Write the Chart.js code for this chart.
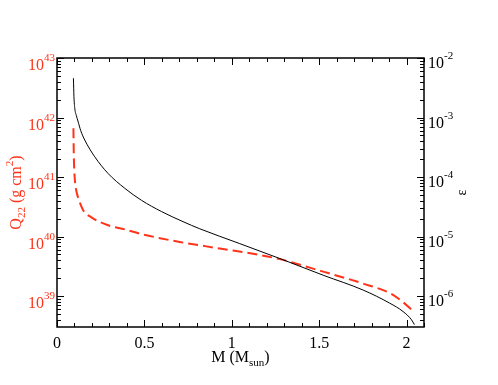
<!DOCTYPE html>
<html>
<head>
<meta charset="utf-8">
<script src="https://cdn.jsdelivr.net/npm/chart.js@4"></script>
<style>
  body { margin: 0; background: #fff; }
  #wrap { width: 498px; height: 385px; }
</style>
</head>
<body>
<div id="wrap"><canvas id="qChart" width="498" height="385"></canvas></div>
<script>
// Values
const massEps = [0.094, 0.097, 0.102, 0.111, 0.120, 0.136, 0.159, 0.216, 0.292, 0.388, 0.483, 0.598, 0.721, 0.817, 1.046, 1.275, 1.523, 1.752, 1.904, 1.98, 2.029, 2.045];
const epsValues = [4.57e-3, 2.24e-3, 1.41e-3, 1.07e-3, 8.7e-4, 6.0e-4, 4.17e-4, 2.19e-4, 1.15e-4, 6.46e-5, 4.07e-5, 2.63e-5, 1.78e-5, 1.35e-5, 7.6e-6, 4.27e-6, 2.24e-6, 1.26e-6, 7.59e-7, 5.50e-7, 3.98e-7, 3.31e-7];

const massQ = [0.094, 0.096, 0.099, 0.104, 0.112, 0.120, 0.149, 0.197, 0.292, 0.388, 0.473, 0.702, 0.931, 1.16, 1.275, 1.523, 1.752, 1.904, 1.98, 2.04];
const qValues = [6.6e41, 2.5e41, 1.26e41, 7.9e40, 5.6e40, 4.6e40, 2.8e40, 2.1e40, 1.55e40, 1.32e40, 1.12e40, 8.1e39, 6.3e39, 4.9e39, 4.17e39, 2.57e39, 1.62e39, 1.12e39, 7.9e38, 5.5e38];

const xMajorTicks = [0, 0.5, 1, 1.5, 2];
const xTickLabels = ['0', '0.5', '1', '1.5', '2'];
const leftExponents = [39, 40, 41, 42, 43];
const rightExponents = [-6, -5, -4, -3, -2];

const RED = '#ff3319';
const FONT = '"Liberation Serif", "DejaVu Serif", serif';

function toPoints(xs, ys) {
  return xs.map((x, i) => ({ x: x, y: ys[i] }));
}

// draws base text followed by a raised or lowered small part
function drawPair(ctx, x, y, base, small, size, smallSize, shift) {
  ctx.font = size + 'px ' + FONT;
  ctx.fillText(base, x, y);
  const w = ctx.measureText(base).width;
  ctx.font = smallSize + 'px ' + FONT;
  ctx.fillText(small, x + w, y + shift);
  return x + w + ctx.measureText(small).width;
}

function pairWidth(ctx, base, small, size, smallSize) {
  ctx.font = size + 'px ' + FONT;
  const w = ctx.measureText(base).width;
  ctx.font = smallSize + 'px ' + FONT;
  return w + ctx.measureText(small).width;
}

const axesPlugin = {
  id: 'graceAxes',
  afterDraw(chart) {
    const ctx = chart.ctx;
    const area = chart.chartArea;
    const xs = chart.scales.x;
    const yl = chart.scales.yQ;
    const yr = chart.scales.yEps;
    ctx.save();
    ctx.textBaseline = 'alphabetic';

    // frame
    ctx.strokeStyle = '#000';
    ctx.lineWidth = 1.5;
    ctx.strokeRect(area.left, area.top, area.right - area.left, area.bottom - area.top);

    // x ticks, bottom and top, pointing inward
    ctx.lineWidth = 1;
    ctx.beginPath();
    for (let i = 0; i <= 21; i++) {
      const v = i / 10;
      const px = Math.round(xs.getPixelForValue(v)) + 0.5;
      const len = (i % 5 === 0) ? 7 : 4;
      ctx.moveTo(px, area.bottom);
      ctx.lineTo(px, area.bottom - len);
      ctx.moveTo(px, area.top);
      ctx.lineTo(px, area.top + len);
    }
    ctx.stroke();

    // log ticks on both y axes
    ctx.beginPath();
    leftExponents.forEach((e, k) => {
      for (let m = 1; m <= 9; m++) {
        const len = m === 1 ? 7 : 4;
        const vl = m * Math.pow(10, e);
        if (vl >= yl.min && vl <= yl.max) {
          const py = Math.round(yl.getPixelForValue(vl)) + 0.5;
          ctx.moveTo(area.left, py);
          ctx.lineTo(area.left + len, py);
        }
        const vr = m * Math.pow(10, rightExponents[k]);
        if (vr >= yr.min && vr <= yr.max) {
          const py = Math.round(yr.getPixelForValue(vr)) + 0.5;
          ctx.moveTo(area.right, py);
          ctx.lineTo(area.right - len, py);
        }
      }
      // lower partial decade
      for (let m = 2; m <= 9; m++) {
        const vl = m * Math.pow(10, e - 1);
        if (k === 0 && vl >= yl.min) {
          const py = Math.round(yl.getPixelForValue(vl)) + 0.5;
          ctx.moveTo(area.left, py);
          ctx.lineTo(area.left + 4, py);
        }
        const vr = m * Math.pow(10, rightExponents[k] - 1);
        if (k === 0 && vr >= yr.min) {
          const py = Math.round(yr.getPixelForValue(vr)) + 0.5;
          ctx.moveTo(area.right, py);
          ctx.lineTo(area.right - 4, py);
        }
      }
    });
    ctx.stroke();

    // x tick labels
    ctx.fillStyle = '#000';
    ctx.font = '16px ' + FONT;
    ctx.textAlign = 'center';
    xMajorTicks.forEach((v, i) => {
      ctx.fillText(xTickLabels[i], xs.getPixelForValue(v), area.bottom + 21);
    });

    // left tick labels (red)
    ctx.textAlign = 'left';
    ctx.fillStyle = RED;
    leftExponents.forEach(e => {
      const py = yl.getPixelForValue(Math.pow(10, e));
      const w = pairWidth(ctx, '10', String(e), 16, 11);
      drawPair(ctx, area.left - 2 - w, py + 12, '10', String(e), 16, 11, -9);
    });

    // right tick labels
    ctx.fillStyle = '#000';
    rightExponents.forEach(e => {
      const py = yr.getPixelForValue(Math.pow(10, e));
      drawPair(ctx, area.right + 4, py + 10, '10', String(e), 16, 11, -9);
    });

    // x axis title with subscript
    {
      const cx = (area.left + area.right) / 2;
      const y = area.bottom + 35;
      ctx.font = '16px ' + FONT;
      const w1 = ctx.measureText('M (M').width;
      ctx.font = '11px ' + FONT;
      const w2 = ctx.measureText('sun').width;
      ctx.font = '16px ' + FONT;
      const w3 = ctx.measureText(')').width;
      let x = cx - (w1 + w2 + w3) / 2;
      ctx.fillText('M (M', x, y);
      ctx.font = '11px ' + FONT;
      ctx.fillText('sun', x + w1, y + 4);
      ctx.font = '16px ' + FONT;
      ctx.fillText(')', x + w1 + w2, y);
    }

    // left axis title, rotated
    {
      const cy = (area.top + area.bottom) / 2;
      ctx.save();
      ctx.translate(21, cy);
      ctx.rotate(-Math.PI / 2);
      ctx.fillStyle = RED;
      const parts = [['Q', 16, 0], ['22', 11, 4], [' (g cm', 16, 0], ['2', 11, -8], [')', 16, 0]];
      let total = 0;
      parts.forEach(p => { ctx.font = p[1] + 'px ' + FONT; total += ctx.measureText(p[0]).width; });
      let x = -total / 2;
      parts.forEach(p => {
        ctx.font = p[1] + 'px ' + FONT;
        ctx.fillText(p[0], x, p[2]);
        x += ctx.measureText(p[0]).width;
      });
      ctx.restore();
    }

    // right axis title
    {
      const cy = (area.top + area.bottom) / 2;
      ctx.save();
      ctx.translate(466, cy);
      ctx.rotate(-Math.PI / 2);
      ctx.fillStyle = '#000';
      ctx.textAlign = 'center';
      ctx.font = '14px ' + FONT;
      ctx.fillText('ε', 0, 0);
      ctx.restore();
    }

    ctx.restore();
  }
};

const chart = new Chart(document.getElementById('qChart').getContext('2d'), {
  type: 'line',
  data: {
    datasets: [
      {
        label: 'epsilon',
        data: toPoints(massEps, epsValues),
        borderColor: '#000',
        borderWidth: 1,
        pointRadius: 0,
        cubicInterpolationMode: 'monotone',
        yAxisID: 'yEps'
      },
      {
        label: 'Q22',
        data: toPoints(massQ, qValues),
        borderColor: RED,
        borderWidth: 2,
        borderDash: [10, 5],
        pointRadius: 0,
        cubicInterpolationMode: 'monotone',
        yAxisID: 'yQ'
      }
    ]
  },
  options: {
    responsive: false,
    animation: false,
    events: [],
    layout: { padding: { left: 57, right: 74, top: 58, bottom: 58 } },
    plugins: { legend: { display: false }, tooltip: { enabled: false } },
    scales: {
      x: { type: 'linear', min: 0, max: 2.1, display: false },
      yQ: { type: 'logarithmic', position: 'left', min: 3.02e38, max: 1e43, display: false },
      yEps: { type: 'logarithmic', position: 'right', min: 3.02e-7, max: 1e-2, display: false }
    }
  },
  plugins: [axesPlugin]
});
</script>
</body>
</html>
